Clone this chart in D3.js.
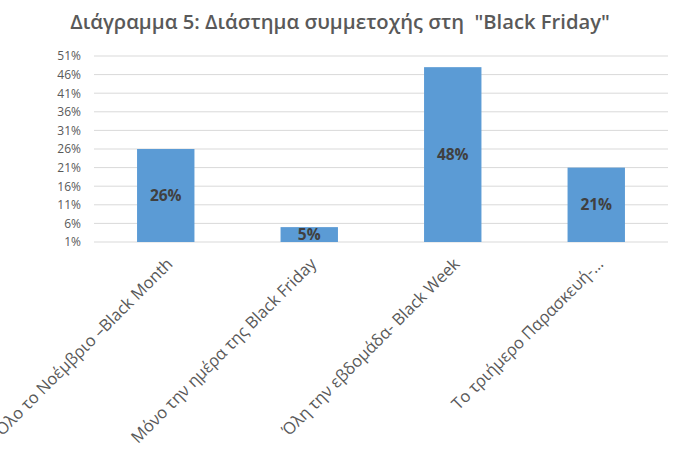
<!DOCTYPE html>
<html><head><meta charset="utf-8">
<script src="https://cdn.jsdelivr.net/npm/d3@7"></script>
<style>body{margin:0;background:#fff}svg{display:block}</style>
</head><body>
<script>
const title = 'Διάγραμμα 5: Διάστημα συμμετοχής στη  "Black Friday"';
const categories = ["Όλο το Νοέμβριο –Black Month", "Μόνο την ημέρα της Black Friday", "Όλη την εβδομάδα- Black Week", "Το τριήμερο Παρασκευή-…"];
const values = [26, 5, 48, 21];
const tickValues = [1, 6, 11, 16, 21, 26, 31, 36, 41, 46, 51];

(function () {
const W = 682, H = 450;
const svg = d3.select("body").append("svg").attr("width", W).attr("height", H);
svg.append("rect").attr("width", W).attr("height", H).attr("fill", "#fff");

const pL = 94, pR = 668, pT = 56, pB = 242;
const x = d3.scaleBand().domain(categories).range([pL, pR]).padding(0);
const y = d3.scaleLinear().domain([1, 51]).range([pB, pT]);

// title
const t = svg.append("text").attr("x", 340).attr("y", 29).attr("text-anchor", "middle")
  .attr("font-family", "Open Sans, sans-serif").attr("font-weight", 600).attr("font-size", 19)
  .attr("fill", "#595959").attr("xml:space", "preserve").style("white-space", "pre").text(title);
const tw = t.node().getComputedTextLength();
t.attr("font-size", 19 * 540 / tw);

// gridlines
svg.append("g").selectAll("line").data(tickValues).join("line")
  .attr("x1", pL).attr("x2", pR).attr("y1", d => y(d)).attr("y2", d => y(d))
  .attr("stroke", "#d9d9d9").attr("stroke-width", 1);

// y axis labels
const yAxis = d3.axisLeft(y).tickValues(tickValues).tickFormat(d => d + "%").tickSize(0).tickPadding(0);
const yg = svg.append("g").attr("transform", "translate(81,0)").call(yAxis);
yg.select(".domain").remove();
yg.selectAll("text").attr("font-family", "Open Sans, sans-serif").attr("font-size", 12).attr("fill", "#595959");

// bars
const bw = x.bandwidth() * 0.4;
svg.append("g").selectAll("rect").data(values).join("rect")
  .attr("x", (d, i) => x(categories[i]) + x.bandwidth() / 2 - bw / 2)
  .attr("width", bw)
  .attr("y", d => y(d))
  .attr("height", d => y(1) - y(d))
  .attr("fill", "#5B9BD5");

// value labels
svg.append("g").selectAll("text").data(values).join("text")
  .attr("x", (d, i) => x(categories[i]) + x.bandwidth() / 2)
  .attr("y", d => (y(d) + y(1)) / 2)
  .attr("dy", "0.36em")
  .attr("text-anchor", "middle")
  .attr("font-family", "Open Sans, sans-serif").attr("font-weight", 700).attr("font-size", 15.5)
  .attr("fill", "#404040")
  .text(d => d + "%");

// x labels
const xAxis = d3.axisBottom(x).tickSize(0).tickPadding(0);
const xg = svg.append("g").attr("transform", `translate(0,${pB})`).call(xAxis);
xg.select(".domain").remove();
xg.selectAll(".tick text")
  .attr("font-family", "Open Sans, sans-serif").attr("font-size", 16.5).attr("fill", "#595959")
  .attr("text-anchor", "end")
  .attr("dy", "0")
  .attr("y", 0)
  .attr("transform", "translate(8,23) rotate(-45)");
})();
</script>
</body></html>
